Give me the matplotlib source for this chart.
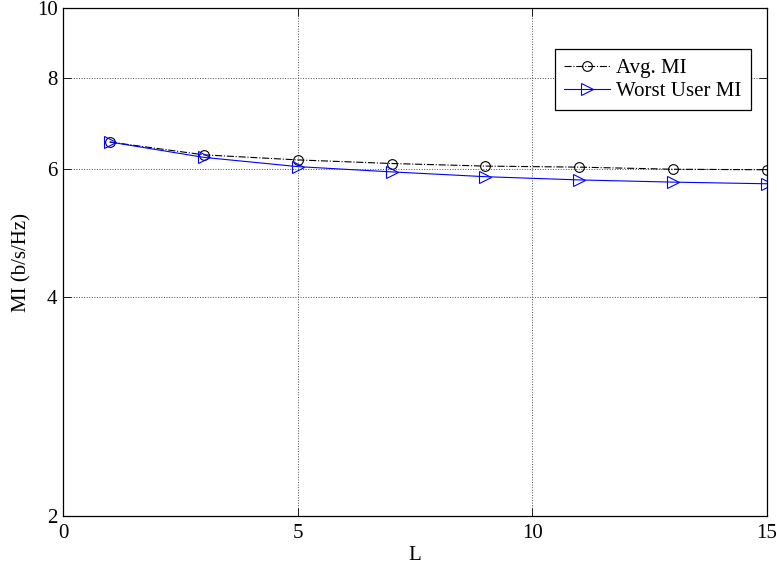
import numpy as np
import matplotlib.pyplot as plt
from matplotlib.ticker import FixedLocator, NullLocator, FixedFormatter

plt.rcParams['font.family'] = ['Liberation Serif', 'DejaVu Serif']
plt.rcParams['font.size'] = 15

# number of antennas L vs mutual information
L = [1, 3, 5, 7, 9, 11, 13, 15]
avg_mi = [6.54, 6.28, 6.18, 6.11, 6.06, 6.04, 6.00, 5.99]
worst_mi = [6.54, 6.23, 6.05, 5.95, 5.86, 5.80, 5.76, 5.73]

yticks = [2, 4, 6, 8, 10]
xticks = [0, 5, 10, 15]

fig = plt.figure(figsize=(7.77, 5.71), dpi=100)
ax = fig.add_axes([63/777, 1 - 516/571, (767-63)/777, (516-8)/571])

ax.plot(L, avg_mi, color='black', linestyle='-.', linewidth=0.8,
        marker='o', markersize=7, markerfacecolor='none', markeredgewidth=0.8,
        label='Avg. MI')
ax.plot(L, worst_mi, color='blue', linestyle='-', linewidth=0.8,
        marker='>', markersize=8, markerfacecolor='none', markeredgewidth=0.8,
        label='Worst User MI')

ax.set_yscale('log')
ax.set_xlim(0, 15)
ax.set_ylim(2, 10)
ax.xaxis.set_major_locator(FixedLocator(xticks))
ax.yaxis.set_major_locator(FixedLocator(yticks))
ax.yaxis.set_major_formatter(FixedFormatter([str(t) for t in yticks]))
ax.yaxis.set_minor_locator(NullLocator())
ax.tick_params(direction='in', length=6, width=0.6, top=True, right=True,
               labelsize=15)
ax.tick_params(axis='x', pad=6)
ax.tick_params(axis='y', pad=4)
ax.grid(True, linestyle=':', color='0.3', linewidth=0.7)
for s in ax.spines.values():
    s.set_linewidth(0.9)

ax.set_xlabel('L', labelpad=2)
ax.set_ylabel('MI (b/s/Hz)', labelpad=4)

leg = ax.legend(loc='upper right', bbox_to_anchor=(0.977, 0.919), fancybox=False,
                edgecolor='black', framealpha=1, borderpad=0.45, labelspacing=0.15,
                handlelength=2.2, handletextpad=0.3, borderaxespad=0, fontsize=15)
leg.get_frame().set_linewidth(0.9)

fig.savefig('out.png', dpi=100)
